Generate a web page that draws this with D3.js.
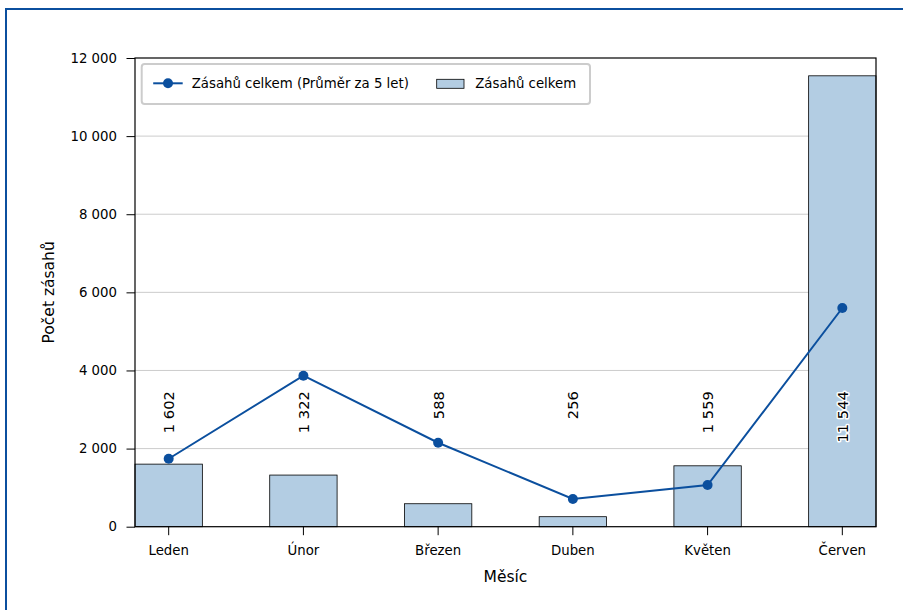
<!DOCTYPE html>
<head>
    <meta charset="utf-8">
    <title>Zásahy podle měsíce</title>
    <script src="https://cdnjs.cloudflare.com/ajax/libs/d3/7.8.5/d3.min.js"></script>
    <style>
        body { margin: 0; overflow: hidden; background: #fff; }
        #frame {
            position: absolute; left: 5px; top: 8px;
            width: 1200px; height: 1200px;
            border-top: 2px solid #0b4f9e; border-left: 2px solid #0b4f9e;
        }
        #chart { position: absolute; left: 0; top: 0; }
        text { font-family: "DejaVu Sans", sans-serif; fill: #000; }
    </style>
</head>
<body>
    <div id="frame"></div>
    <div id="chart"></div>
    <script type="text/javascript">
        // data
        const months = ["Leden", "Únor", "Březen", "Duben", "Květen", "Červen"];
        const totals = [1602, 1322, 588, 256, 1559, 11544];
        const avg5 = [1740, 3866, 2150, 709, 1067, 5599];
        const yTicks = [0, 2000, 4000, 6000, 8000, 10000, 12000];
        const yMax = 12000;
        const labelY = 3470;

        const width = 903;
        const height = 610;
        const marginLeft = 135;
        const marginTop = 58;
        const marginRight = 27;
        const marginBottom = 83.3;

        const blue = "#0b4f9e";
        const barFill = "#b3cde3";

        const cz = d3.formatLocale({decimal: ",", thousands: " ", grouping: [3], currency: ["", ""]});
        const fmt = cz.format(",d");

        const svg = d3.select("#chart")
            .append("svg")
            .attr("width", width)
            .attr("height", height);

        const xScale = d3.scaleBand()
            .domain(months)
            .range([marginLeft, width - marginRight])
            .paddingInner(0.5)
            .paddingOuter(0);
        const cx = m => xScale(m) + xScale.bandwidth() / 2;

        const yScale = d3.scaleLinear()
            .domain([0, yMax])
            .range([height - marginBottom, marginTop]);

        // grid
        svg.append("g")
            .selectAll("line")
            .data(yTicks.slice(1, -1))
            .enter()
            .append("line")
            .attr("x1", marginLeft)
            .attr("x2", width - marginRight)
            .attr("y1", d => yScale(d))
            .attr("y2", d => yScale(d))
            .attr("stroke", "#cccccc")
            .attr("stroke-width", 1);

        // bars
        svg.append("g")
            .selectAll("rect")
            .data(totals)
            .enter()
            .append("rect")
            .attr("x", (d, i) => xScale(months[i]))
            .attr("y", d => yScale(d))
            .attr("width", xScale.bandwidth())
            .attr("height", d => yScale(0) - yScale(d))
            .attr("fill", barFill)
            .attr("stroke", "#000")
            .attr("stroke-width", 0.8);

        // line (5-year average)
        const line = d3.line()
            .x((d, i) => cx(months[i]))
            .y(d => yScale(d));

        svg.append("path")
            .datum(avg5)
            .attr("d", line)
            .attr("fill", "none")
            .attr("stroke", blue)
            .attr("stroke-width", 2);

        svg.append("g")
            .selectAll("circle")
            .data(avg5)
            .enter()
            .append("circle")
            .attr("cx", (d, i) => cx(months[i]))
            .attr("cy", d => yScale(d))
            .attr("r", 5)
            .attr("fill", blue);

        // value labels
        svg.append("g")
            .selectAll("text")
            .data(totals)
            .enter()
            .append("text")
            .attr("transform", (d, i) => "translate(" + cx(months[i]) + "," + yScale(labelY) + ") rotate(-90)")
            .attr("text-anchor", "end")
            .attr("dominant-baseline", "central")
            .attr("font-size", "14.7px")
            .attr("stroke", "#fff")
            .attr("stroke-width", 3)
            .attr("stroke-linejoin", "round")
            .attr("paint-order", "stroke")
            .text(d => fmt(d));

        // axes
        const yAxis = d3.axisLeft(yScale)
            .tickValues(yTicks)
            .tickFormat(fmt)
            .tickSize(8.5)
            .tickPadding(9.5);
        const gy = svg.append("g")
            .attr("transform", "translate(" + marginLeft + ",0)")
            .call(yAxis);
        gy.select(".domain").remove();
        gy.selectAll("text").attr("font-size", "13.3px").attr("font-family", "DejaVu Sans");
        gy.selectAll("line").attr("stroke", "#000").attr("stroke-width", 1);

        const xAxis = d3.axisBottom(xScale)
            .tickSize(8.5)
            .tickPadding(10.4);
        const gx = svg.append("g")
            .attr("transform", "translate(0," + (height - marginBottom) + ")")
            .call(xAxis);
        gx.select(".domain").remove();
        gx.selectAll("text").attr("font-size", "13.3px").attr("font-family", "DejaVu Sans");
        gx.selectAll("line").attr("stroke", "#000").attr("stroke-width", 1);

        // frame of the plot
        svg.append("rect")
            .attr("x", marginLeft)
            .attr("y", marginTop)
            .attr("width", width - marginLeft - marginRight)
            .attr("height", height - marginTop - marginBottom)
            .attr("fill", "none")
            .attr("stroke", "#000")
            .attr("stroke-width", 1.2);

        // axis titles
        svg.append("text")
            .attr("x", (marginLeft + width - marginRight) / 2)
            .attr("y", 581.7)
            .attr("text-anchor", "middle")
            .attr("font-size", "15.5px")
            .text("Měsíc");

        svg.append("text")
            .attr("transform", "translate(49," + (marginTop + (height - marginTop - marginBottom) / 2) + ") rotate(-90)")
            .attr("text-anchor", "middle")
            .attr("dominant-baseline", "central")
            .attr("font-size", "15.5px")
            .text("Počet zásahů");

        // legend
        const legend = svg.append("g").attr("transform", "translate(141.7,64)");
        legend.append("rect")
            .attr("width", 448.3)
            .attr("height", 40)
            .attr("rx", 3)
            .attr("fill", "#fff")
            .attr("fill-opacity", 0.8)
            .attr("stroke", "#cccccc")
            .attr("stroke-width", 2);
        legend.append("line")
            .attr("x1", 11.5).attr("x2", 41)
            .attr("y1", 19.3).attr("y2", 19.3)
            .attr("stroke", blue)
            .attr("stroke-width", 2);
        legend.append("circle")
            .attr("cx", 26.3).attr("cy", 19.3).attr("r", 5)
            .attr("fill", blue);
        legend.append("text")
            .attr("x", 50).attr("y", 23.5)
            .attr("font-size", "13.3px")
            .text("Zásahů celkem (Průměr za 5 let)");
        legend.append("rect")
            .attr("x", 295).attr("y", 15.3)
            .attr("width", 27.3).attr("height", 9)
            .attr("fill", barFill)
            .attr("stroke", "#000")
            .attr("stroke-width", 0.8);
        legend.append("text")
            .attr("x", 333.5).attr("y", 23.5)
            .attr("font-size", "13.3px")
            .text("Zásahů celkem");
    </script>
</body>
